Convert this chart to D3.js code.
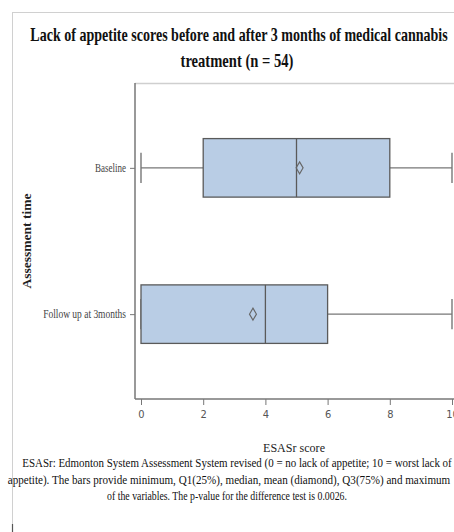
<!DOCTYPE html>
<html>
<head>
<meta charset="utf-8">
<script src="https://cdn.jsdelivr.net/npm/d3@7"></script>
<style>
  html, body { margin: 0; padding: 0; background: #fff; }
  svg { display: block; }
  .serif { font-family: "Liberation Serif", "Times New Roman", serif; }
</style>
</head>
<body>
<svg id="chart" width="454" height="532"></svg>
<script>
// ---- data ----
const categories = ["Baseline", "Follow up at 3months"];
const minVals    = [0, 0];
const q1Vals     = [2, 0];
const medianVals = [5, 4];
const meanVals   = [5.1, 3.6];
const q3Vals     = [8, 6];
const maxVals    = [10, 10];
const xTicks     = [0, 2, 4, 6, 8, 10];
const titleLines = ["Lack of appetite scores before and after 3 months of medical cannabis", "treatment (n = 54)"];
const yTitle = "Assessment time";
const xTitle = "ESASr score";
const noteLines = [
  "ESASr: Edmonton System Assessment System revised (0 = no lack of appetite; 10 = worst lack of",
  "appetite). The bars provide minimum, Q1(25%), median, mean (diamond), Q3(75%) and maximum",
  "of the variables. The p-value for the difference test is 0.0026."
];

const rows = categories.map((c, i) => ({
  cat: c, min: minVals[i], q1: q1Vals[i], med: medianVals[i],
  mean: meanVals[i], q3: q3Vals[i], max: maxVals[i]
}));

const svg = d3.select("#chart");

// condense a text horizontally to a target width (the source uses a narrow Times face)
function condense(sel, cx, cy, targetW, extra) {
  sel.each(function () {
    const n = this.getComputedTextLength();
    const s = Math.min(1, targetW / n);
    d3.select(this).attr("x", 0).attr("y", 0)
      .attr("transform", `translate(${cx},${cy})${extra || ""} scale(${s},1)`);
  });
}

// outer frame (light gray)
svg.append("line").attr("x1", 12.5).attr("x2", 12.5).attr("y1", 12).attr("y2", 532)
  .attr("stroke", "#d0d0d0").attr("stroke-width", 1);
svg.append("line").attr("x1", 12).attr("x2", 454).attr("y1", 12.5).attr("y2", 12.5)
  .attr("stroke", "#d0d0d0").attr("stroke-width", 1);
svg.append("line").attr("x1", 12.5).attr("x2", 12.5).attr("y1", 524).attr("y2", 532)
  .attr("stroke", "#555").attr("stroke-width", 1.2);

// plot geometry
const plotLeft = 135, plotTop = 83, plotBottom = 399, plotRight = 460;
const x = d3.scaleLinear().domain([0, 10]).range([141, 452]);
const y = d3.scalePoint().domain(categories).range([plotTop, plotBottom]).padding(0.58);
const boxH = y.step() * 0.4;
const capH = boxH * 0.52;

// plot top border
svg.append("line").attr("x1", plotLeft).attr("x2", plotRight).attr("y1", plotTop + 0.5).attr("y2", plotTop + 0.5)
  .attr("stroke", "#cfcfcf").attr("stroke-width", 1.5);

// boxes
const g = svg.append("g");
const boxes = g.selectAll("g.box").data(rows).join("g").attr("class", "box");
const stroke = "#5a5a5a";
const whisk = "#777";

boxes.append("line")
  .attr("x1", d => x(d.min)).attr("x2", d => x(d.q1))
  .attr("y1", d => y(d.cat)).attr("y2", d => y(d.cat))
  .attr("stroke", whisk).attr("stroke-width", 1.4);
boxes.append("line")
  .attr("x1", d => x(d.q3)).attr("x2", d => x(d.max))
  .attr("y1", d => y(d.cat)).attr("y2", d => y(d.cat))
  .attr("stroke", whisk).attr("stroke-width", 1.4);
boxes.append("line")
  .attr("x1", d => x(d.min)).attr("x2", d => x(d.min))
  .attr("y1", d => y(d.cat) - capH / 2).attr("y2", d => y(d.cat) + capH / 2)
  .attr("stroke", whisk).attr("stroke-width", 1.4);
boxes.append("line")
  .attr("x1", d => x(d.max)).attr("x2", d => x(d.max))
  .attr("y1", d => y(d.cat) - capH / 2).attr("y2", d => y(d.cat) + capH / 2)
  .attr("stroke", whisk).attr("stroke-width", 1.4);
boxes.append("rect")
  .attr("x", d => x(d.q1)).attr("width", d => x(d.q3) - x(d.q1))
  .attr("y", d => y(d.cat) - boxH / 2).attr("height", boxH)
  .attr("fill", "#b9cde5").attr("stroke", stroke).attr("stroke-width", 1.3);
boxes.append("line")
  .attr("x1", d => x(d.med)).attr("x2", d => x(d.med))
  .attr("y1", d => y(d.cat) - boxH / 2).attr("y2", d => y(d.cat) + boxH / 2)
  .attr("stroke", stroke).attr("stroke-width", 1.3);
boxes.append("path")
  .attr("d", d => {
    const cx = x(d.mean), cy = y(d.cat);
    return `M${cx},${cy - 6}L${cx + 3.5},${cy}L${cx},${cy + 6}L${cx - 3.5},${cy}Z`;
  })
  .attr("fill", "none").attr("stroke", "#666").attr("stroke-width", 1.1);

// x axis
const xAxis = svg.append("g").attr("transform", `translate(0,${plotBottom})`)
  .call(d3.axisBottom(x).tickValues(xTicks).tickFormat(d3.format("d")).tickSize(6).tickPadding(5));
xAxis.select(".domain").remove();
xAxis.selectAll(".tick line").attr("stroke", "#777").attr("stroke-width", 1);
xAxis.selectAll(".tick text").attr("fill", "#555")
  .style("font-family", "'DejaVu Sans Condensed', 'Liberation Sans Narrow', sans-serif")
  .style("font-size", "11px");
svg.append("line").attr("x1", plotLeft).attr("x2", plotRight).attr("y1", plotBottom).attr("y2", plotBottom)
  .attr("stroke", "#777").attr("stroke-width", 1.5);

// y axis
const yAxis = svg.append("g").attr("transform", `translate(${plotLeft},0)`)
  .call(d3.axisLeft(y).tickSize(5).tickPadding(4));
yAxis.select(".domain").remove();
yAxis.selectAll(".tick line").attr("stroke", "#777").attr("stroke-width", 1);
const yLabelW = [31, 83];
yAxis.selectAll(".tick text").attr("fill", "#444")
  .attr("class", "serif").style("font-size", "12px")
  .each(function (d, i) {
    const t = d3.select(this);
    condense(t, -9, 0, yLabelW[categories.indexOf(d)]);
    t.attr("dy", "0.32em");
  });
svg.append("line").attr("x1", plotLeft).attr("x2", plotLeft).attr("y1", plotTop).attr("y2", plotBottom)
  .attr("stroke", "#777").attr("stroke-width", 1.5);

// title
const titleX = [239, 237];
const titleY = [41, 67];
const titleW = [418, 113];
svg.selectAll("text.title").data(titleLines).join("text")
  .attr("class", "title serif")
  .attr("text-anchor", "middle").attr("font-weight", "bold").attr("font-size", 18)
  .attr("fill", "#111")
  .text(d => d)
  .each(function (d, i) { condense(d3.select(this), titleX[i], titleY[i], titleW[i]); });

// y title
svg.append("text").attr("class", "serif")
  .attr("text-anchor", "middle").attr("font-weight", "bold").attr("font-size", 13.5)
  .attr("fill", "#222")
  .text(yTitle)
  .call(s => condense(s, 31, 241, 108, " rotate(-90)"));

// x title
svg.append("text").attr("class", "serif")
  .attr("text-anchor", "middle").attr("font-size", 13)
  .attr("fill", "#222")
  .text(xTitle)
  .call(s => condense(s, 294, 452, 62));

// footnote
const noteX = [237, 229, 227];
const noteY = [467, 484, 500];
const noteW = [430, 443, 240];
svg.selectAll("text.note").data(noteLines).join("text")
  .attr("class", "note serif")
  .attr("text-anchor", "middle").attr("font-size", 13).attr("fill", "#111")
  .text(d => d)
  .each(function (d, i) { condense(d3.select(this), noteX[i], noteY[i], noteW[i]); });
</script>
</body>
</html>
